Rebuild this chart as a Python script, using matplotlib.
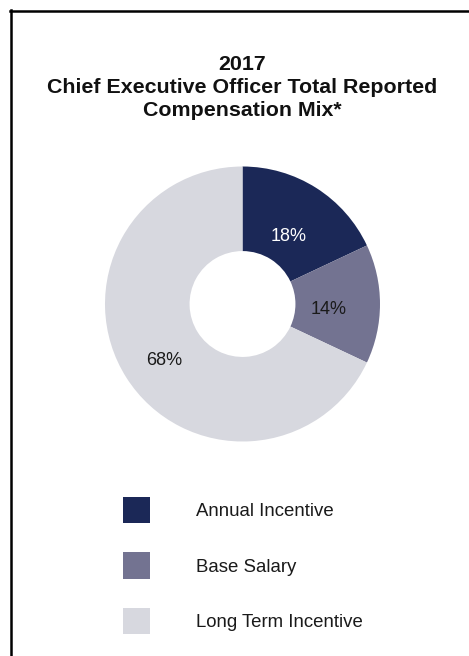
import numpy as np
import matplotlib
matplotlib.use("Agg")
import matplotlib.pyplot as plt
from matplotlib.lines import Line2D

plt.rcParams["font.family"] = ["Liberation Sans", "DejaVu Sans"]

categories = ["Annual Incentive", "Base Salary", "Long Term Incentive"]
shares = [18, 14, 68]
colors = ["#1b2857", "#737391", "#d7d8df"]
label_colors = ["white", "#1a1a1a", "#1a1a1a"]
title_lines = ["2017", "Chief Executive Officer Total Reported", "Compensation Mix*"]

# label placement: radius (fraction of outer radius) and angle nudge (deg)
label_dist = [0.595, 0.63, 0.705]
label_nudge = [-2.2, -3.6, 3.6]

W, H = 469, 656
fig = plt.figure(figsize=(W / 100, H / 100), dpi=100)

# partial frame (top and left edges only)
fig.add_artist(Line2D([10 / W, 1], [1 - 11 / H, 1 - 11 / H], color="black", lw=1.8))
fig.add_artist(Line2D([11 / W, 11 / W], [0, 1 - 10 / H], color="black", lw=1.8))

for i, line in enumerate(title_lines):
    fig.text(242.5 / W, 1 - (65 + 22.5 * i) / H, line, ha="center", va="center",
             fontsize=15.4, fontweight="bold", color="#111111")

cx, cy, r = 242.5, 304, 137.5
ax = fig.add_axes([(cx - r) / W, (H - cy - r) / H, 2 * r / W, 2 * r / H])
wedges, texts, autotexts = ax.pie(
    shares, colors=colors, startangle=90, counterclock=False,
    autopct="%d%%", pctdistance=0.64,
    wedgeprops=dict(width=0.615, linewidth=0),
    textprops=dict(fontsize=13),
)
for w, t, c, d, n in zip(wedges, autotexts, label_colors, label_dist, label_nudge):
    ang = np.deg2rad((w.theta1 + w.theta2) / 2 + n)
    t.set_position((d * np.cos(ang), d * np.sin(ang)))
    t.set_color(c)
ax.set_xlim(-1, 1)
ax.set_ylim(-1, 1)
ax.set_aspect("equal")
ax.axis("off")

leg = fig.legend(wedges, categories, loc="upper left",
                 bbox_to_anchor=(123 / W, 1 - 497 / H),
                 frameon=False, fontsize=13.4,
                 handlelength=1.45, handleheight=1.78,
                 handletextpad=2.47, labelspacing=1.58,
                 borderpad=0, borderaxespad=0)
for txt in leg.get_texts():
    txt.set_color("#1a1a1a")

fig.savefig("out.png", dpi=100)
